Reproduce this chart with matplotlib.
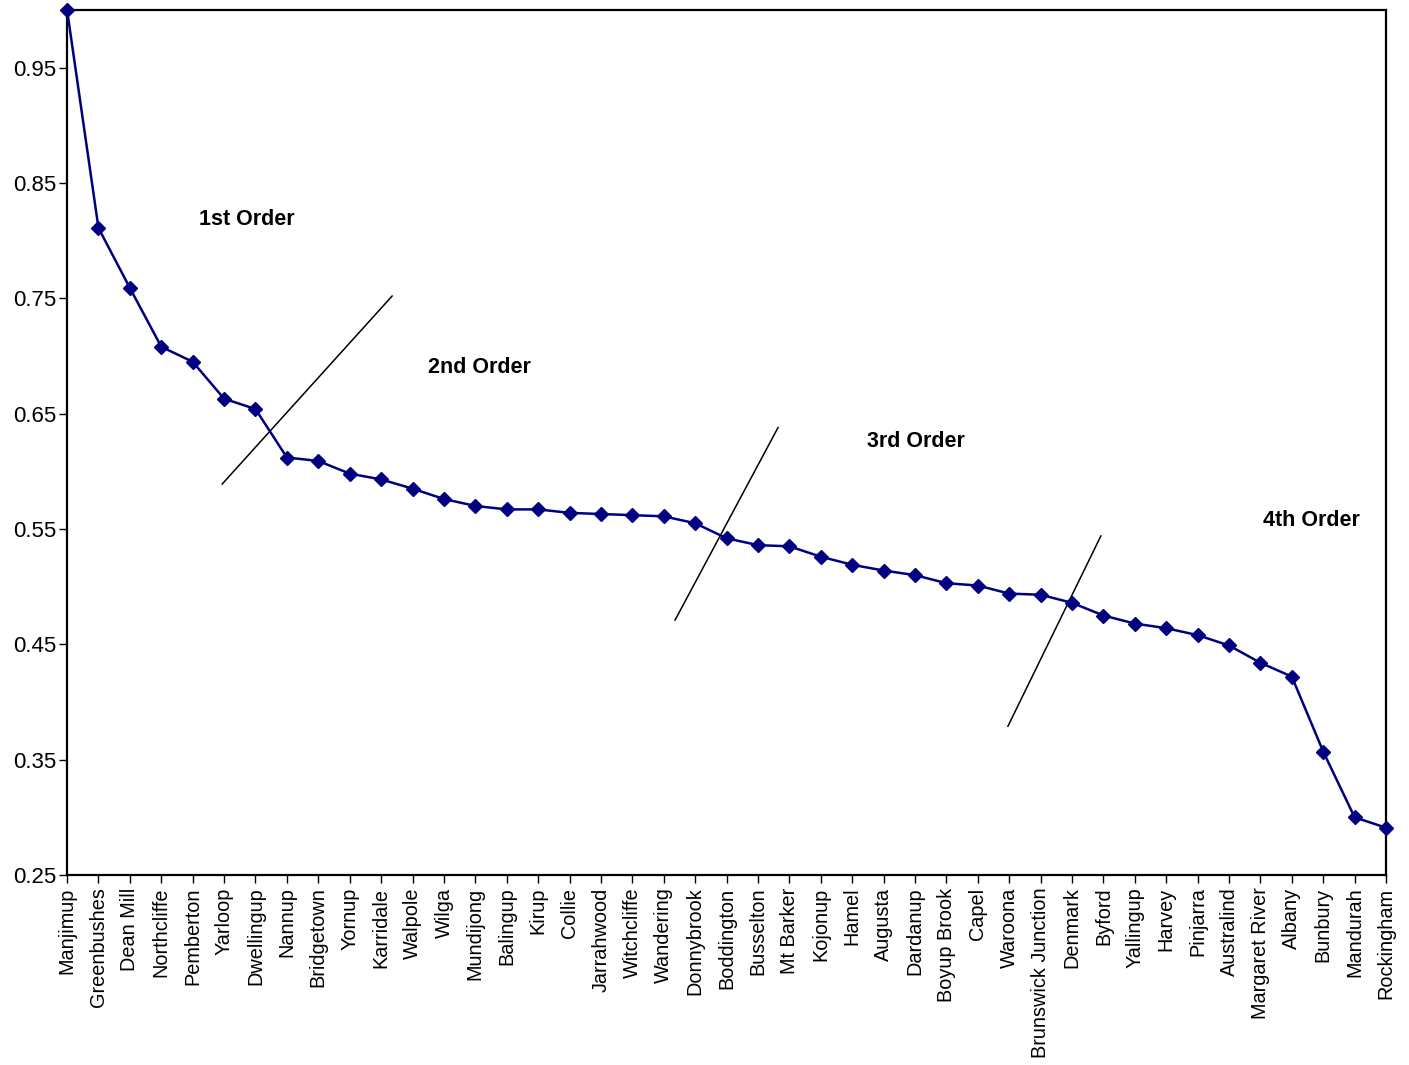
import matplotlib
matplotlib.use('Agg')
import matplotlib.pyplot as plt

plt.rcParams['font.family'] = ['Liberation Sans', 'DejaVu Sans']

towns = ['Manjimup', 'Greenbushes', 'Dean Mill', 'Northcliffe', 'Pemberton', 'Yarloop',
         'Dwellingup', 'Nannup', 'Bridgetown', 'Yornup', 'Karridale', 'Walpole', 'Wilga',
         'Mundijong', 'Balingup', 'Kirup', 'Collie', 'Jarrahwood', 'Witchcliffe',
         'Wandering', 'Donnybrook', 'Boddington', 'Busselton', 'Mt Barker', 'Kojonup',
         'Hamel', 'Augusta', 'Dardanup', 'Boyup Brook', 'Capel', 'Waroona',
         'Brunswick Junction', 'Denmark', 'Byford', 'Yallingup', 'Harvey', 'Pinjarra',
         'Australind', 'Margaret River', 'Albany', 'Bunbury', 'Mandurah', 'Rockingham']
values = [1.000, 0.811, 0.759, 0.708, 0.695, 0.663, 0.654, 0.612, 0.609, 0.598, 0.593,
          0.585, 0.576, 0.570, 0.567, 0.567, 0.564, 0.563, 0.562, 0.561, 0.555, 0.542,
          0.536, 0.535, 0.526, 0.519, 0.514, 0.510, 0.503, 0.501, 0.494, 0.493, 0.486,
          0.475, 0.468, 0.464, 0.458, 0.449, 0.434, 0.422, 0.357, 0.300, 0.291]
yticks = [0.25, 0.35, 0.45, 0.55, 0.65, 0.75, 0.85, 0.95]

# order labels and the divider lines between them
order_labels = ['1st Order', '2nd Order', '3rd Order', '4th Order']
label_pos = [(5.73, 0.818), (13.12, 0.690), (27.03, 0.626), (39.61, 0.557)]
dividers = [((4.94, 10.35), (0.589, 0.752)),
            ((19.36, 22.64), (0.471, 0.638)),
            ((29.96, 32.92), (0.379, 0.544))]

fig = plt.figure(figsize=(14.09, 10.65), dpi=100)
ax = fig.add_axes([0.0476, 0.1784, 0.9361, 0.8122])

x = list(range(len(towns)))
ax.plot(x, values, color='#000080', lw=1.8, marker='D', ms=7,
        markerfacecolor='#000080', markeredgecolor='#000080', clip_on=False, zorder=3)

for xs, ys in dividers:
    ax.plot(xs, ys, color='black', lw=1.1)
for txt, (tx, ty) in zip(order_labels, label_pos):
    ax.text(tx, ty, txt, ha='center', va='center', fontsize=15.5, fontweight='bold')

ax.set_xlim(0, len(towns) - 1)
ax.set_ylim(0.25, 1.0)
ax.set_xticks(x)
ax.set_xticklabels(towns, rotation=90, fontsize=14.3)
ax.set_yticks(yticks)
ax.set_yticklabels([f'{t:.2f}' for t in yticks], fontsize=16)
ax.tick_params(axis='both', direction='out', length=6, width=1, colors='black')
ax.tick_params(axis='x', pad=3)
ax.tick_params(axis='y', pad=2)
for s in ax.spines.values():
    s.set_linewidth(1.6)

fig.savefig('out.png', dpi=100)
